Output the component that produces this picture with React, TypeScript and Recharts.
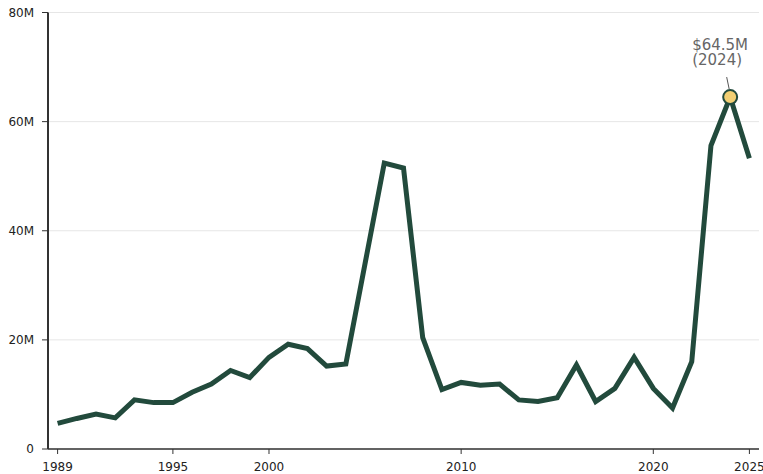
import * as React from "react";
import {
  LineChart,
  Line,
  XAxis,
  YAxis,
  CartesianGrid,
  ReferenceDot,
} from "recharts";

const years = [
  1989, 1990, 1991, 1992, 1993, 1994, 1995, 1996, 1997, 1998, 1999, 2000,
  2001, 2002, 2003, 2004, 2005, 2006, 2007, 2008, 2009, 2010, 2011, 2012,
  2013, 2014, 2015, 2016, 2017, 2018, 2019, 2020, 2021, 2022, 2023, 2024,
  2025,
];

// values in millions of dollars
const amounts = [
  4.7, 5.6, 6.4, 5.7, 9.0, 8.5, 8.5, 10.4, 11.9, 14.4, 13.1, 16.8, 19.2,
  18.4, 15.2, 15.6, 34.0, 52.4, 51.5, 20.4, 10.9, 12.2, 11.7, 11.9, 9.0, 8.7,
  9.4, 15.4, 8.7, 11.1, 16.8, 11.1, 7.5, 16.0, 55.6, 64.5, 53.3,
];

const xTicks = [1989, 1995, 2000, 2010, 2020, 2025];
const yTicks = [0, 20e6, 40e6, 60e6, 80e6];

const highlightYear = 2024;
const highlightValue = 64.5e6;
const highlightLines = ["$64.5M", "(2024)"];

const data = years.map((year, i) => ({ year, value: amounts[i] * 1e6 }));

const font = "DejaVu Sans, sans-serif";
const lineColor = "#224a3c";

const formatY = (v: number) => (v === 0 ? "0" : `${v / 1e6}M`);

const CalloutLabel = (props: any) => {
  const { viewBox } = props;
  if (!viewBox) return null;
  const cx = viewBox.x + viewBox.width / 2;
  const cy = viewBox.y + viewBox.height / 2;
  return (
    <g>
      <line
        x1={cx - 3.5}
        y1={cy - 20}
        x2={cx - 1}
        y2={cy - 8}
        stroke="#555"
        strokeWidth={1}
      />
      <text
        x={cx - 38}
        y={cy - 47}
        fontFamily={font}
        fontSize={15}
        fill="#666"
      >
        <tspan x={cx - 38} dy={0}>
          {highlightLines[0]}
        </tspan>
        <tspan x={cx - 38} dy={15}>
          {highlightLines[1]}
        </tspan>
      </text>
    </g>
  );
};

export default function App() {
  return (
    <div style={{ position: "absolute", left: 0, top: 0 }}>
      <LineChart
        width={763}
        height={474}
        data={data}
        margin={{ top: 12.5, right: 4, bottom: 0, left: 0 }}
      >
        <CartesianGrid
          vertical={false}
          stroke="#e6e6e6"
          strokeWidth={1}
        />
        <XAxis
          dataKey="year"
          type="number"
          domain={[1988.5, 2025.5]}
          ticks={xTicks}
          height={25}
          tickSize={5}
          tickMargin={8}
          axisLine={{ stroke: "#333", strokeWidth: 1.5 }}
          tickLine={{ stroke: "#333", strokeWidth: 1 }}
          tick={{ fontFamily: font, fontSize: 12, fill: "#222" }}
          interval={0}
        />
        <YAxis
          type="number"
          domain={[0, 80e6]}
          ticks={yTicks}
          width={48}
          tickSize={6}
          tickMargin={8}
          tickFormatter={formatY}
          axisLine={{ stroke: "#333", strokeWidth: 2 }}
          tickLine={{ stroke: "#333", strokeWidth: 1 }}
          tick={{ fontFamily: font, fontSize: 12, fill: "#222" }}
          interval={0}
        />
        <Line
          type="linear"
          dataKey="value"
          stroke={lineColor}
          strokeWidth={5}
          dot={false}
          activeDot={false}
          isAnimationActive={false}
        />
        <ReferenceDot
          x={highlightYear}
          y={highlightValue}
          r={7}
          fill="#f2cf73"
          stroke={lineColor}
          strokeWidth={2}
          label={<CalloutLabel />}
        />
      </LineChart>
    </div>
  );
}
